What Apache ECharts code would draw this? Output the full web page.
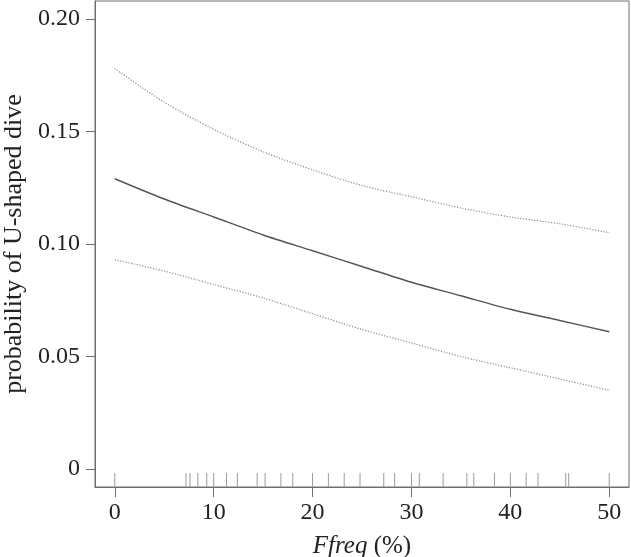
<html>
<head>
    <meta charset="utf-8">
    <title>ECharts</title>
    <script src="https://cdn.jsdelivr.net/npm/echarts@6.0.0/dist/echarts.min.js"></script>
</head>
<body style="margin:0">
<div id="main" style="width: 631px;height:557px;"></div>
<script type="text/javascript">
    // values
    var ffreq = [0, 5, 10, 15, 20, 25, 30, 35, 40, 45, 50];
    var fitted = [0.129, 0.120, 0.112, 0.104, 0.097, 0.090, 0.083, 0.077, 0.071, 0.066, 0.061];
    var upper = [0.178, 0.163, 0.151, 0.141, 0.133, 0.126, 0.121, 0.116, 0.112, 0.109, 0.105];
    var lower = [0.093, 0.088, 0.082, 0.076, 0.069, 0.062, 0.056, 0.050, 0.045, 0.040, 0.035];
    // observed Ffreq values (rug)
    var rug = [0, 7.2, 7.6, 8.4, 9.3, 10, 11.3, 12.4, 14.4, 15.2, 16.8, 18.0, 20.0, 21.6, 23.2, 24.8,
        27.2, 28.3, 30.0, 30.8, 33.2, 35.6, 36.3, 38.4, 40.0, 41.6, 42.8, 45.6, 45.9, 50];
    var xTicks = [0, 10, 20, 30, 40, 50];
    var yTicks = [0, 0.05, 0.10, 0.15, 0.20];

    var font = 'Liberation Serif';
    var axisCol = '#6e6e6e';
    var textCol = '#222';

    function pairs(xs, ys) {
        var out = [];
        for (var i = 0; i < xs.length; i++) out.push([xs[i], ys[i]]);
        return out;
    }

    var myChart = echarts.init(document.getElementById('main'));

    var option = {
        animation: false,
        grid: {
            left: 95, right: 2, top: 1, bottom: 70,
            outerBoundsMode: 'none', containLabel: false,
            show: true, borderColor: axisCol, borderWidth: 1
        },
        xAxis: {
            type: 'value',
            min: -2, max: 52,
            name: '{i|Ffreq}{n| (%)}',
            nameLocation: 'middle',
            nameGap: 47,
            nameTextStyle: {
                rich: {
                    i: {fontFamily: font, fontSize: 25, fontStyle: 'italic', color: textCol},
                    n: {fontFamily: font, fontSize: 25, color: textCol}
                }
            },
            axisLine: {onZero: false, lineStyle: {color: axisCol}},
            axisTick: {show: true, length: 10, customValues: xTicks, lineStyle: {color: axisCol}},
            axisLabel: {customValues: xTicks, margin: 14, fontFamily: font, fontSize: 24, color: textCol},
            splitLine: {show: false}
        },
        yAxis: {
            type: 'value',
            min: -0.008, max: 0.208,
            name: 'probability of U-shaped dive',
            nameLocation: 'middle',
            nameGap: 62,
            nameTextStyle: {fontFamily: font, fontSize: 26, color: textCol},
            axisLine: {show: true, onZero: false, lineStyle: {color: axisCol}},
            axisTick: {show: true, length: 9, customValues: yTicks, lineStyle: {color: axisCol}},
            axisLabel: {
                customValues: yTicks, margin: 15, fontFamily: font, fontSize: 24, color: textCol,
                formatter: function (v) { return v === 0 ? '0' : v.toFixed(2); }
            },
            splitLine: {show: false}
        },
        series: [
            {
                type: 'line', data: pairs(ffreq, upper), smooth: 0.3, showSymbol: false,
                lineStyle: {color: '#8a8a8a', width: 1.2, type: [1.2, 1.6]}
            },
            {
                type: 'line', data: pairs(ffreq, fitted), smooth: 0.3, showSymbol: false,
                lineStyle: {color: '#555', width: 1.4}
            },
            {
                type: 'line', data: pairs(ffreq, lower), smooth: 0.3, showSymbol: false,
                lineStyle: {color: '#8a8a8a', width: 1.2, type: [1.2, 1.6]}
            },
            {
                type: 'custom',
                data: rug.map(function (v) { return [v]; }),
                renderItem: function (params, api) {
                    var p = api.coord([api.value(0), -0.008]);
                    return {
                        type: 'line',
                        shape: {x1: p[0], y1: p[1], x2: p[0], y2: p[1] - 14},
                        style: {stroke: '#9a9a9a', lineWidth: 1}
                    };
                }
            }
        ]
    };

    myChart.setOption(option);
</script>
</body>
</html>
